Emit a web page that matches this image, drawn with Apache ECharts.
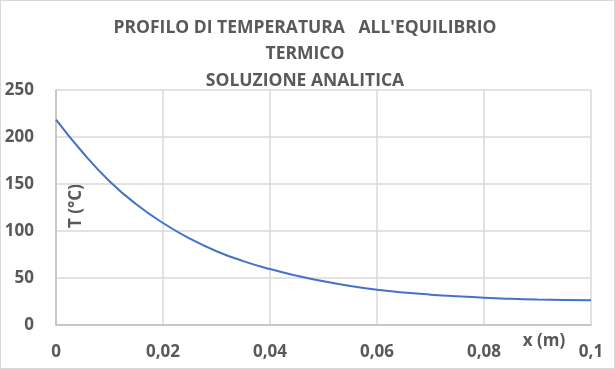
<!DOCTYPE html>
<html>
<head>
<meta charset="utf-8">
<script src="https://cdn.jsdelivr.net/npm/echarts@6/dist/echarts.min.js"></script>
<style>
html,body{margin:0;padding:0;background:#fff;}
#c{width:613px;height:367px;border:1px solid #d9d9d9;}
</style>
</head>
<body>
<div id="c"></div>
<script>
const titleLines = ["PROFILO DI TEMPERATURA   ALL'EQUILIBRIO", "TERMICO", "SOLUZIONE ANALITICA"];
const xValues = [0, 0.005, 0.01, 0.015, 0.02, 0.025, 0.03, 0.035, 0.04, 0.045, 0.05, 0.055, 0.06, 0.065, 0.07, 0.075, 0.08, 0.085, 0.09, 0.095, 0.1];
const tValues = [218.5, 183.5, 153, 128.5, 108.5, 92, 78.5, 68, 59.5, 52.5, 46.5, 41.5, 37.5, 34.5, 32.3, 30.5, 29, 27.9, 27.1, 26.6, 26.3];
const yAxisName = "T (°C)";
const xAxisName = "x (m)";

const FONT = "'Open Sans', sans-serif";
const TITLE_Y = [27, 53, 80];
const chart = echarts.init(document.getElementById('c'));
chart.setOption({
  animation: false,
  grid: {left: 55, right: 23, top: 89, bottom: 43},
  xAxis: {
    type: 'value', min: 0, max: 0.1, interval: 0.02,
    axisLine: {show: true, lineStyle: {color: '#bfbfbf', width: 1.5}},
    axisTick: {show: false},
    splitLine: {show: true, lineStyle: {color: '#d9d9d9', width: 1.5}},
    axisLabel: {
      margin: 19, fontFamily: FONT, fontSize: 17, fontWeight: 'bold', color: '#595959',
      formatter: v => String(+v.toFixed(2)).replace('.', ',')
    }
  },
  yAxis: {
    type: 'value', min: 0, max: 250, interval: 50,
    axisLine: {show: true, lineStyle: {color: '#bfbfbf', width: 1.5}},
    axisTick: {show: false},
    splitLine: {show: true, lineStyle: {color: '#d9d9d9', width: 1.5}},
    axisLabel: {margin: 22, fontFamily: FONT, fontSize: 17, fontWeight: 'bold', color: '#595959'}
  },
  graphic: titleLines.map((t, i) => ({
      type: 'text', x: 304, y: TITLE_Y[i],
      style: {text: t, font: "bold 17.5px 'Open Sans', sans-serif", fill: '#595959',
              align: 'center', verticalAlign: 'middle'}
    })).concat([
    {type: 'text', x: 75, y: 205, rotation: Math.PI / 2,
     style: {text: yAxisName, font: "bold 17px 'Open Sans', sans-serif", fill: '#595959',
             align: 'center', verticalAlign: 'middle'}},
    {type: 'text', x: 543, y: 340,
     style: {text: xAxisName, font: "bold 17px 'Open Sans', sans-serif", fill: '#595959',
             align: 'center', verticalAlign: 'middle'}}
  ]),
  series: [{
    type: 'line', smooth: true, showSymbol: false,
    data: xValues.map((x, i) => [x, tValues[i]]),
    lineStyle: {color: '#4472c4', width: 2}
  }]
});
</script>
</body>
</html>
